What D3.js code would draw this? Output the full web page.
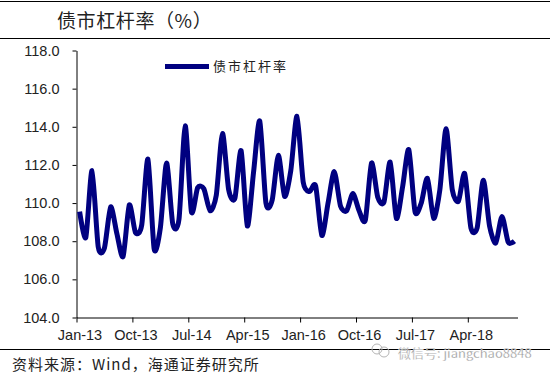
<!DOCTYPE html>
<html>
<head>
<meta charset="utf-8">
<script src="https://cdn.jsdelivr.net/npm/d3@7"></script>
<style>
  body { margin: 0; background: #fff; }
  svg { display: block; }
  .tick text { font-family: "Liberation Sans", Arial, sans-serif; font-size: 14.5px; fill: #222; }
  .cjk { font-family: "Noto Sans CJK SC", sans-serif; }
</style>
</head>
<body>
<svg width="550" height="376"></svg>
<script>
// Monthly values, Jan-13 onward
var leverage = [
  109.55, 108.2, 111.7, 107.7, 107.65, 109.8, 108.4, 107.2, 109.9, 108.45, 108.85, 112.3,
  107.6, 108.7, 112.1, 108.9, 109.15, 114.05, 109.55, 110.8, 110.75, 109.6, 110.4, 113.65,
  110.7, 110.25, 112.75, 108.8, 111.6, 114.3, 110, 110.15, 112.5, 110.35, 111.7, 114.55,
  111.1, 110.6, 110.9, 108.3, 110, 111.65, 109.85, 109.6, 110.5, 109.6, 109.1, 112.1,
  110.3, 110.05, 112.15, 109.2, 110.85, 112.8, 109.55, 110, 111.3, 109.2, 110.7, 113.9,
  110.7, 110.1, 111.55, 108.7, 108.7, 111.2, 108.8, 107.9, 109.3, 107.95, 108
];
var xTickIndex = [0, 9, 18, 27, 36, 45, 54, 63];
var xTickLabels = ["Jan-13", "Oct-13", "Jul-14", "Apr-15", "Jan-16", "Oct-16", "Jul-17", "Apr-18"];
var yTicks = [104, 106, 108, 110, 112, 114, 116, 118];
var seriesName = "债市杠杆率";

var svg = d3.select("svg");
const margin = { left: 76.5, right: 517.5, top: 50.5, bottom: 317.5 };

//Rules above and below the chart
[1, 38, 349].forEach((y) => {
  svg
    .append("line")
    .attr("x1", 0)
    .attr("x2", 550)
    .attr("y1", y + 0.5)
    .attr("y2", y + 0.5)
    .attr("stroke", "#000")
    .attr("stroke-width", 1);
});

//Title
svg
  .append("text")
  .attr("class", "cjk")
  .attr("x", 57)
  .attr("y", 28)
  .attr("font-size", 19)
  .attr("letter-spacing", 0.6)
  .attr("fill", "#222")
  .text(seriesName + "（%）");

//Scales: months sit in the middle of their category slot
const xScale = d3.scaleLinear().domain([0, leverage.length]).range([margin.left, margin.right]);
const yScale = d3.scaleLinear().domain([104, 118]).range([margin.bottom, margin.top]);

const xAxis = d3
  .axisBottom(xScale)
  .tickValues(xTickIndex)
  .tickSize(5)
  .tickSizeOuter(0)
  .tickFormat((d, i) => xTickLabels[i]);
const yAxis = d3
  .axisLeft(yScale)
  .tickValues(yTicks)
  .tickSize(4)
  .tickSizeOuter(0)
  .tickFormat(d3.format(".1f"));

const gx = svg.append("g").attr("transform", `translate(0, ${margin.bottom})`).call(xAxis);
const gy = svg.append("g").attr("transform", `translate(${margin.left}, 0)`).call(yAxis);
gx.selectAll("text").attr("dy", "0.71em").attr("y", 12).attr("x", 3);
gy.selectAll("text").attr("x", -17);

//Smoothed series line, tightened a little so it does not overshoot the troughs
const line = d3
  .line()
  .x((d, i) => xScale(i + 0.5))
  .y((d) => yScale(d))
  .curve(d3.curveCardinal.tension(0.25));

svg
  .append("path")
  .datum(leverage)
  .attr("d", line)
  .attr("fill", "none")
  .attr("stroke", "#000080")
  .attr("stroke-width", 5)
  .attr("stroke-linejoin", "round");

//Legend
svg
  .append("line")
  .attr("x1", 165)
  .attr("x2", 209)
  .attr("y1", 66.5)
  .attr("y2", 66.5)
  .attr("stroke", "#000080")
  .attr("stroke-width", 5);
svg
  .append("text")
  .attr("class", "cjk")
  .attr("x", 213)
  .attr("y", 71)
  .attr("font-size", 13)
  .attr("letter-spacing", 2)
  .attr("fill", "#222")
  .text(seriesName);

//Source note
svg
  .append("text")
  .attr("class", "cjk")
  .attr("x", 12)
  .attr("y", 370)
  .attr("font-size", 15)
  .attr("letter-spacing", 1)
  .attr("fill", "#222")
  .text("资料来源：Wind，海通证券研究所");

//Watermark over the bottom rule
const mark = svg.append("g").attr("fill", "none").attr("stroke", "#b5b5b5").attr("stroke-width", 1);
mark.append("circle").attr("cx", 377).attr("cy", 349).attr("r", 5);
mark.append("circle").attr("cx", 384).attr("cy", 352).attr("r", 5);
svg
  .append("text")
  .attr("class", "cjk")
  .attr("x", 398)
  .attr("y", 358)
  .attr("font-size", 13)
  .attr("fill", "#8c8c8c")
  .attr("stroke", "#fff")
  .attr("stroke-width", 0.3)
  .text("微信号: jiangchao8848");
</script>
</body>
</html>
